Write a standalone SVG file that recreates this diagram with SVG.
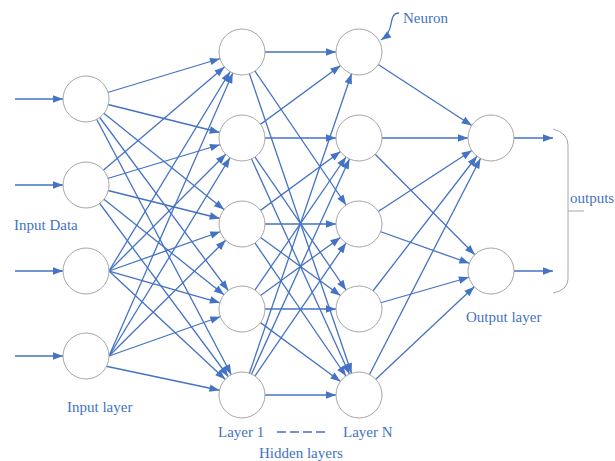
<svg xmlns="http://www.w3.org/2000/svg" width="615" height="461" viewBox="0 0 615 461">
<style>
.c{stroke:#4472C4;stroke-width:1.3;fill:none;marker-end:url(#a)}
.f{stroke:#4472C4;stroke-width:1.3;fill:none;marker-end:url(#b)}
.n{fill:#fff;stroke:#A6A6A6;stroke-width:1}
.t{font-family:"Liberation Serif","Times New Roman",serif;font-size:15px;fill:#4472C4}
</style>
<defs>
<marker id="a" markerUnits="userSpaceOnUse" markerWidth="11" markerHeight="8" refX="33" refY="3.75" orient="auto" overflow="visible"><path d="M0,0 L10,3.75 L0,7.5 z" fill="#4472C4"/></marker>
<marker id="b" markerUnits="userSpaceOnUse" markerWidth="11" markerHeight="8" refX="10" refY="3.75" orient="auto" overflow="visible"><path d="M0,0 L10,3.75 L0,7.5 z" fill="#4472C4"/></marker>
</defs>
<rect width="615" height="461" fill="#fff"/>
<g id="connectors">
<line class="c" x1="15" y1="99" x2="86" y2="99"/>
<line class="c" x1="15" y1="185" x2="86" y2="185"/>
<line class="c" x1="15" y1="271" x2="86" y2="271"/>
<line class="c" x1="15" y1="356" x2="86" y2="356"/>
<line class="c" x1="86" y1="99" x2="242" y2="52"/>
<line class="c" x1="86" y1="99" x2="242" y2="138"/>
<line class="c" x1="86" y1="99" x2="242" y2="224"/>
<line class="c" x1="86" y1="99" x2="242" y2="309"/>
<line class="c" x1="86" y1="99" x2="242" y2="395"/>
<line class="c" x1="86" y1="185" x2="242" y2="52"/>
<line class="c" x1="86" y1="185" x2="242" y2="138"/>
<line class="c" x1="86" y1="185" x2="242" y2="224"/>
<line class="c" x1="86" y1="185" x2="242" y2="309"/>
<line class="c" x1="86" y1="185" x2="242" y2="395"/>
<line class="c" x1="109" y1="271" x2="242" y2="52"/>
<line class="c" x1="109" y1="271" x2="242" y2="138"/>
<line class="c" x1="109" y1="271" x2="242" y2="224"/>
<line class="c" x1="109" y1="271" x2="242" y2="309"/>
<line class="c" x1="109" y1="271" x2="242" y2="395"/>
<line class="c" x1="109" y1="356" x2="242" y2="52"/>
<line class="c" x1="109" y1="356" x2="242" y2="138"/>
<line class="c" x1="109" y1="356" x2="242" y2="224"/>
<line class="c" x1="109" y1="356" x2="242" y2="309"/>
<line class="c" x1="105" y1="366" x2="242" y2="395"/>
<line class="c" x1="242" y1="52" x2="359" y2="52"/>
<line class="c" x1="242" y1="52" x2="359" y2="224"/>
<line class="c" x1="242" y1="52" x2="359" y2="395"/>
<line class="c" x1="242" y1="138" x2="359" y2="52"/>
<line class="c" x1="242" y1="138" x2="359" y2="138"/>
<line class="c" x1="242" y1="138" x2="359" y2="309"/>
<line class="c" x1="242" y1="138" x2="359" y2="395"/>
<line class="c" x1="242" y1="224" x2="359" y2="138"/>
<line class="c" x1="242" y1="224" x2="359" y2="224"/>
<line class="c" x1="242" y1="224" x2="359" y2="309"/>
<line class="c" x1="242" y1="224" x2="359" y2="395"/>
<line class="c" x1="242" y1="309" x2="359" y2="138"/>
<line class="c" x1="242" y1="309" x2="359" y2="224"/>
<line class="c" x1="242" y1="309" x2="359" y2="309"/>
<line class="c" x1="242" y1="309" x2="359" y2="395"/>
<line class="c" x1="242" y1="395" x2="359" y2="52"/>
<line class="c" x1="242" y1="395" x2="359" y2="138"/>
<line class="c" x1="242" y1="395" x2="359" y2="224"/>
<line class="c" x1="242" y1="395" x2="359" y2="395"/>
<line class="c" x1="359" y1="52" x2="491" y2="138"/>
<line class="c" x1="359" y1="138" x2="491" y2="138"/>
<line class="c" x1="359" y1="138" x2="491" y2="271"/>
<line class="c" x1="359" y1="224" x2="491" y2="138"/>
<line class="c" x1="359" y1="224" x2="491" y2="271"/>
<line class="c" x1="359" y1="309" x2="491" y2="138"/>
<line class="c" x1="359" y1="309" x2="491" y2="271"/>
<line class="c" x1="359" y1="395" x2="491" y2="138"/>
<line class="c" x1="359" y1="395" x2="491" y2="271"/>
<line class="f" x1="514" y1="138" x2="553" y2="138"/>
<line class="f" x1="514" y1="271" x2="553" y2="271"/>
<path class="f" d="M399,13 C393,13 392,18 391,24 C390,31 387,36 381,40"/>
</g>
<g id="input-layer">
<circle class="n" cx="86" cy="99" r="23"/>
<circle class="n" cx="86" cy="185" r="23"/>
<circle class="n" cx="86" cy="271" r="23"/>
<circle class="n" cx="86" cy="356" r="23"/>
</g>
<g id="hidden-layer-1">
<circle class="n" cx="242" cy="52" r="23"/>
<circle class="n" cx="242" cy="138" r="23"/>
<circle class="n" cx="242" cy="224" r="23"/>
<circle class="n" cx="242" cy="309" r="23"/>
<circle class="n" cx="242" cy="395" r="23"/>
</g>
<g id="hidden-layer-n">
<circle class="n" cx="359" cy="52" r="23"/>
<circle class="n" cx="359" cy="138" r="23"/>
<circle class="n" cx="359" cy="224" r="23"/>
<circle class="n" cx="359" cy="309" r="23"/>
<circle class="n" cx="359" cy="395" r="23"/>
</g>
<g id="output-layer">
<circle class="n" cx="491" cy="138" r="23"/>
<circle class="n" cx="491" cy="271" r="23"/>
</g>
<g id="outputs-bracket">
<path d="M553,129 Q568,133 568,145 L568,279 Q568,290 553,293 M568,211 L584,211" fill="none" stroke="#A6A6A6" stroke-width="1"/>
</g>
<g id="labels">
<text class="t" x="403" y="23">Neuron</text>
<text class="t" x="14" y="230">Input Data</text>
<text class="t" x="67" y="412">Input layer</text>
<text class="t" x="218" y="437">Layer 1</text>
<line x1="277" y1="432" x2="326" y2="432" stroke="#4472C4" stroke-width="1.3" stroke-dasharray="9,4"/>
<text class="t" x="343" y="437">Layer N</text>
<text class="t" x="259" y="458">Hidden layers</text>
<text class="t" x="466" y="322">Output layer</text>
<text class="t" x="570" y="203">outputs</text>
</g>
</svg>
